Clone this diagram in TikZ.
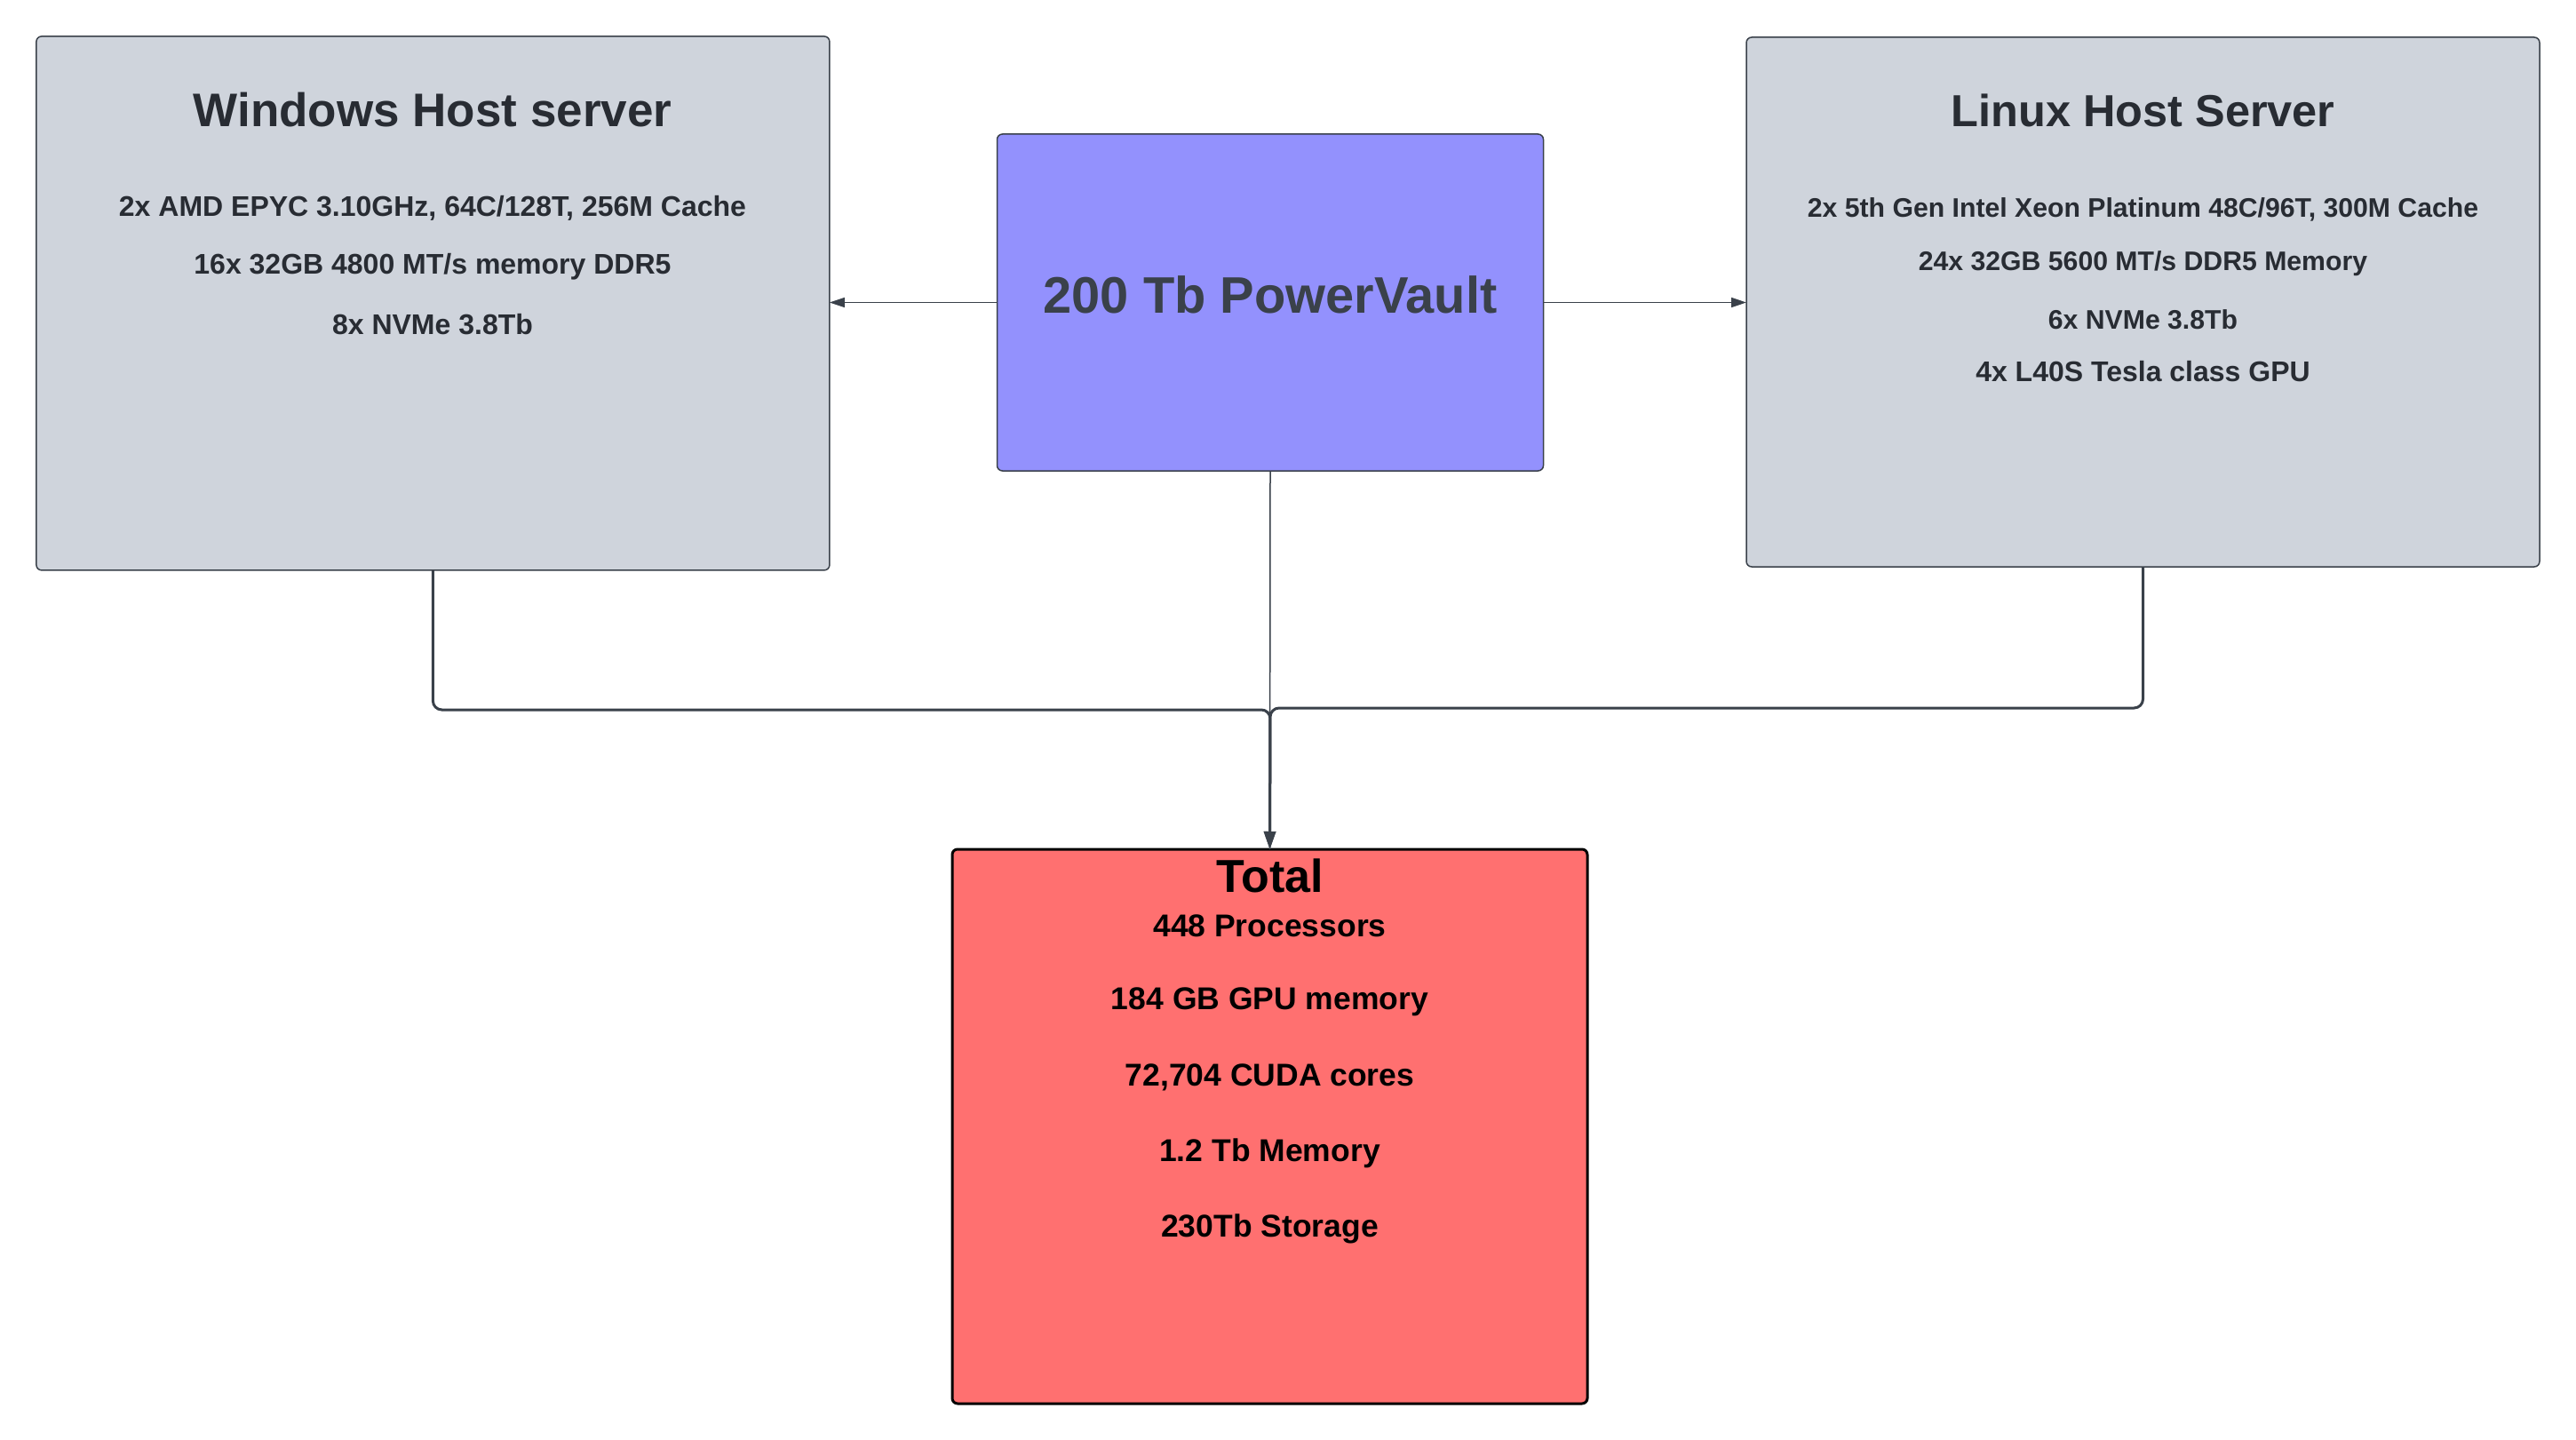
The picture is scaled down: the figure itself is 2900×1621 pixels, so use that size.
\documentclass[tikz,border=0pt]{standalone}
\usepackage{fontspec}
\setmainfont{Liberation Sans}
\usetikzlibrary{arrows.meta}
\definecolor{hostfill}{HTML}{CFD4DC}
\definecolor{hostline}{HTML}{3A414A}
\definecolor{vaultfill}{HTML}{9391FD}
\definecolor{totalfill}{HTML}{FF7070}
\definecolor{txtdark}{HTML}{282C33}
\definecolor{vaulttxt}{HTML}{3A414A}
\begin{document}
\begin{tikzpicture}[x=1pt,y=-1pt,
  box/.style={rectangle, rounded corners=6pt, inner sep=0pt, outer sep=0pt},
  hostbox/.style={box, draw=hostline, line width=1.5pt, fill=hostfill},
  vaultbox/.style={box, draw=hostline, line width=1.5pt, fill=vaultfill},
  totalbox/.style={box, draw=black, line width=3pt, fill=totalfill},
  htitle/.style={font=\fontsize{53}{62}\selectfont\bfseries, text=txtdark, inner sep=0pt, anchor=center},
  hline/.style={font=\fontsize{32}{38}\selectfont\bfseries, text=txtdark, inner sep=0pt, anchor=center},
  ltitle/.style={font=\fontsize{50.5}{60}\selectfont\bfseries, text=txtdark, inner sep=0pt, anchor=center},
  lline/.style={font=\fontsize{30.2}{36}\selectfont\bfseries, text=txtdark, inner sep=0pt, anchor=center},
  vtitle/.style={font=\fontsize{57.8}{66}\selectfont\bfseries, text=vaulttxt, inner sep=0pt, anchor=center},
  ttitle/.style={font=\fontsize{52}{62}\selectfont\bfseries, text=black, inner sep=0pt, anchor=center},
  tline/.style={font=\fontsize{35.5}{42}\selectfont\bfseries, text=black, inner sep=0pt, anchor=center},
  thinconn/.style={draw=hostline, line width=1.5pt},
  thickconn/.style={draw=hostline, line width=3pt, rounded corners=10pt},
]
\useasboundingbox (0,0) rectangle (2900,1621);
\fill[white] (0,0) rectangle (2900,1621);

% boxes
\node[hostbox, minimum width=893pt, minimum height=601pt] (win) at (487.4,341.4) {};
\node[hostbox, minimum width=893pt, minimum height=596pt] (lin) at (2412.5,340) {};
\node[vaultbox, minimum width=615pt, minimum height=379pt] (vault) at (1430,340.5) {};
\node[totalbox, minimum width=715pt, minimum height=624pt] (total) at (1429.5,1268) {};

% Windows texts
\node[htitle] (wt) at (487,124) {Windows Host server};
\node[hline] (w1) at (487,234) {2x AMD EPYC 3.10GHz, 64C/128T, 256M Cache};
\node[hline] (w2) at (487,300.5) {16x 32GB 4800 MT/s memory DDR5};
\node[hline] (w3) at (487,365) {8x NVMe 3.8Tb};

% Linux texts
\node[ltitle] (lt) at (2412.5,124) {Linux Host Server};
\node[lline] (l1) at (2412.5,235.5) {2x 5th Gen Intel Xeon Platinum 48C/96T, 300M Cache};
\node[lline] (l2) at (2412.5,297) {24x 32GB 5600 MT/s DDR5 Memory};
\node[lline] (l3) at (2412.5,359.5) {6x NVMe 3.8Tb};
\node[hline] (l4) at (2412.5,418.5) {4x L40S Tesla class GPU};

% vault text
\node[vtitle] (vt) at (1430,332) {200 Tb PowerVault};

% total texts
\node[ttitle] (tt) at (1429.5,985.5) {Total};
\node[tline] (t1) at (1429.5,1042) {448 Processors};
\node[tline] (t2) at (1429.5,1127.5) {184 GB GPU memory};
\node[tline] (t3) at (1429.5,1213) {72,704 CUDA cores};
\node[tline] (t4) at (1429.5,1298.5) {1.2 Tb Memory};
\node[tline] (t5) at (1429.5,1383.5) {230Tb Storage};

% junction coordinates
\coordinate (jl) at (1430,799);
\coordinate (jr) at (1430,797);

% connectors
\draw[thinconn, -{Triangle[length=17pt, width=11pt]}] (vault.west) -- (vault.west -| win.east);
\draw[thinconn, -{Triangle[length=17pt, width=11pt]}] (vault.east) -- (vault.east -| lin.west);
\draw[thinconn] (vault.south) -- (total.north);
\draw[thickconn, -{Triangle[length=20pt, width=13pt]}] (win.south) |- (jl) -- (total.north);
\draw[thickconn, -{Triangle[length=20pt, width=13pt]}] (lin.south) |- (jr) -- (total.north);
\end{tikzpicture}
\end{document}
